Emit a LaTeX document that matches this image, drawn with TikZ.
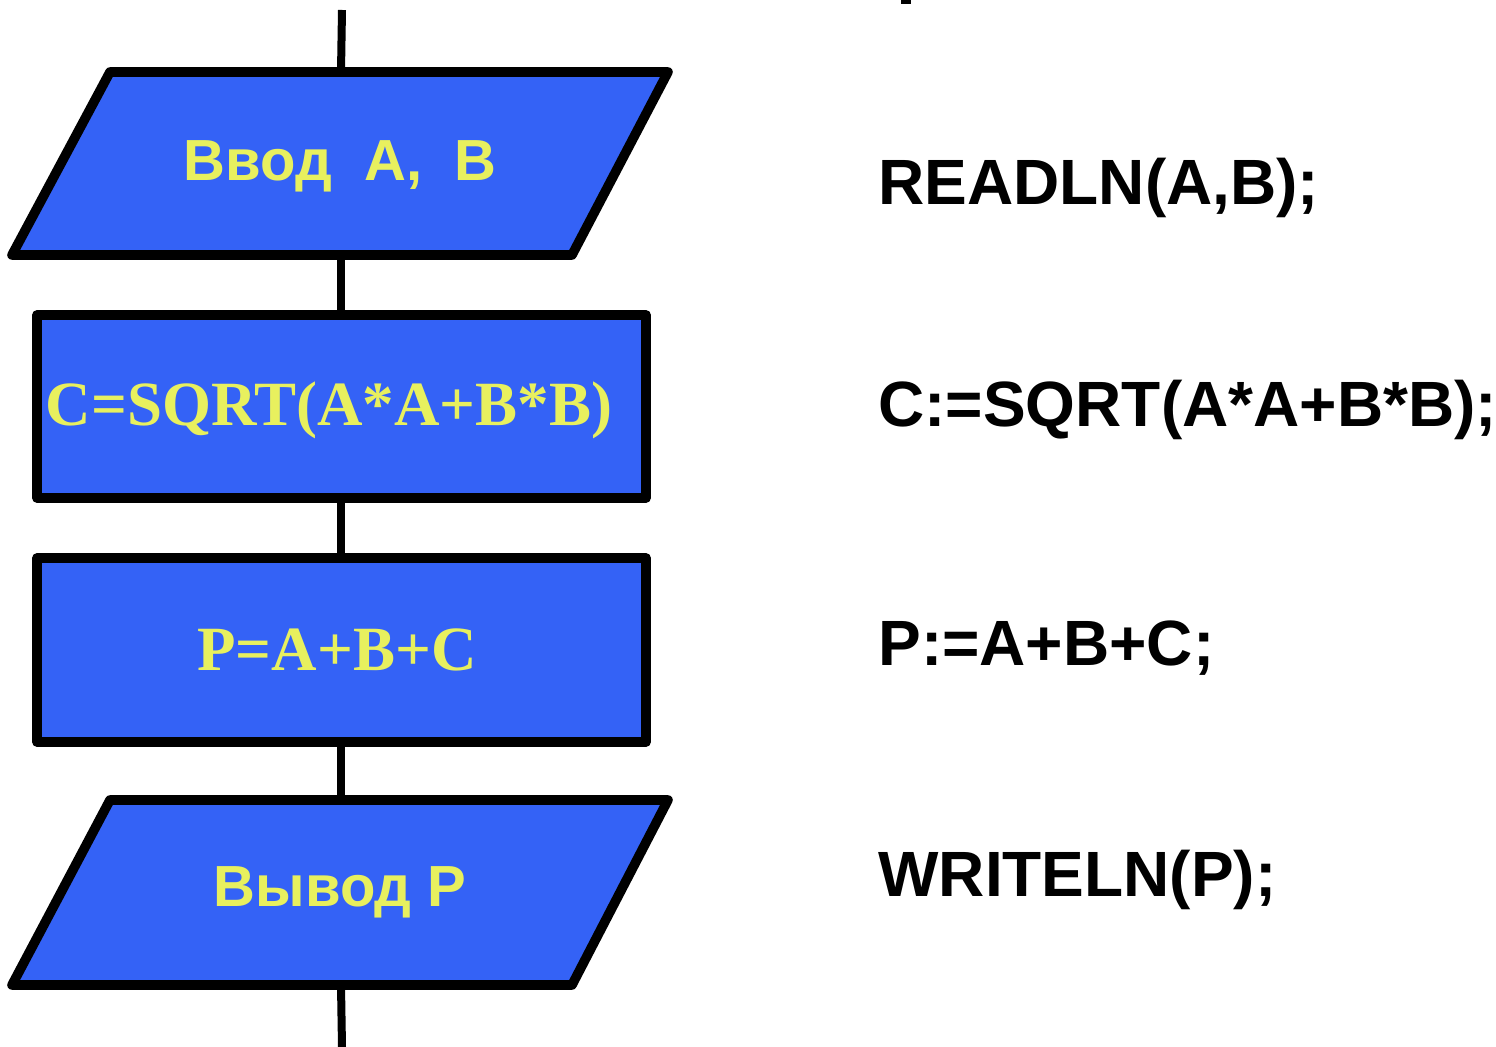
\documentclass[tikz,border=0pt]{standalone}
\usepackage{fontspec}
\setmainfont{Liberation Serif}
\newfontfamily\codefont{Liberation Sans}
\newfontfamily\labelfont{Liberation Sans}
\definecolor{boxblue}{HTML}{3462F6}
\definecolor{boxtext}{HTML}{E8F05E}
\tikzset{
  flowbox/.style={draw=black, fill=boxblue, line width=4.8pt, line join=round},
  anchorbox/.style={draw=none, inner sep=0pt, minimum width=200pt, minimum height=91.5pt},
  iotext/.style={text=boxtext, font=\labelfont\bfseries\fontsize{29}{34}\selectfont},
  optext/.style={text=boxtext, font=\bfseries\fontsize{31.5}{36}\selectfont},
  codetext/.style={anchor=west, inner sep=0pt, font=\codefont\bfseries\fontsize{32}{38}\selectfont},
  flowline/.style={draw=black, line width=4pt}
}
\begin{document}
\begin{tikzpicture}[x=0.5pt, y=-0.5pt]
\useasboundingbox (0,0) rectangle (1496,1047);
\fill[white] (0,0) rectangle (1496,1047);

% flowchart shapes
\draw[flowbox] (110,72) -- (668,72) -- (572,255) -- (12,255) -- cycle;
\draw[flowbox] (37,315) rectangle (646,498);
\draw[flowbox] (37,558) rectangle (646,742);
\draw[flowbox] (110,800) -- (668,800) -- (572,985) -- (12,985) -- cycle;

% labelled anchors, one per block
\node[anchorbox] (inp)  at (341,163.5) {};
\node[anchorbox] (calc) at (341,406.5) {};
\node[anchorbox] (sum)  at (341,650) {};
\node[anchorbox, minimum height=92.5pt] (outp) at (341,892.5) {};
\node[iotext] at (340,166) {Ввод\ \ A,\ \ B};
\node[optext] at (329,410) {C=SQRT(A*A+B*B)};
\node[optext] at (337,650) {P=A+B+C};
\node[iotext] at (340,892) {Вывод\ P};

% connectors
\coordinate (top) at (342,10);
\coordinate (bottom) at (342,1047);
\draw[flowline] (top) -- (inp.north);
\draw[flowline] (inp.south) -- (calc.north);
\draw[flowline] (calc.south) -- (sum.north);
\draw[flowline] (sum.south) -- (outp.north);
\draw[flowline] (outp.south) -- (bottom);

% Pascal code beside each block
\node[codetext] (c1) at (878,188) {READLN(A,B);};
\node[codetext] (c2) at (878,410) {C:=SQRT(A*A+B*B);};
\node[codetext] (c3) at (878,648) {P:=A+B+C;};
\node[codetext] (c4) at (878,880) {WRITELN(P);};

% mark at the top edge
\fill[black] (901,0) rectangle (911,4);
\end{tikzpicture}
\end{document}
